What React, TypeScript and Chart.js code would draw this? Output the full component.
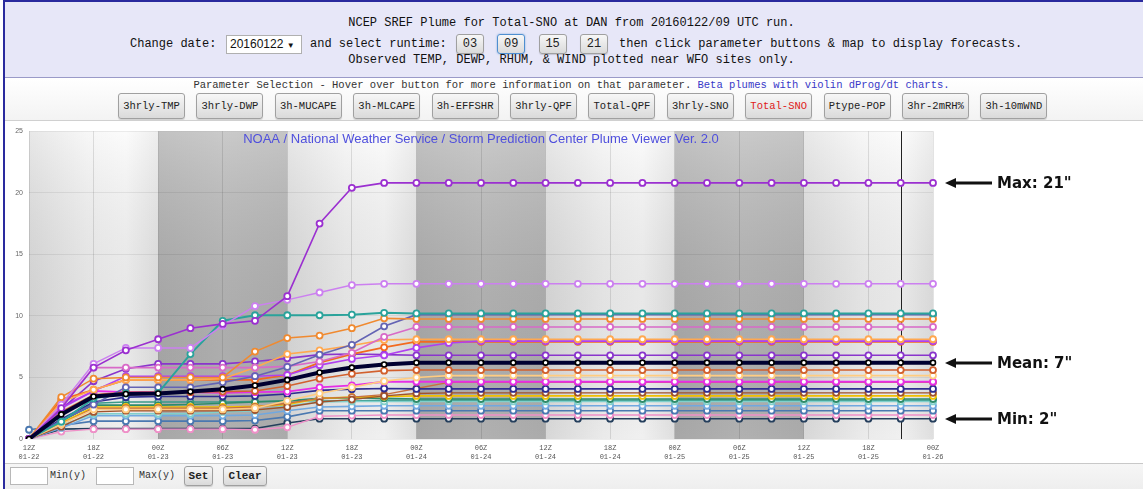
import React, { useEffect, useRef } from 'react';
import { Chart, registerables } from 'chart.js';
Chart.register(...registerables);

// ---- axis labels (3-hourly, 12Z 01-22 .. 00Z 01-26) ----
const hourLabels = ['12Z','15Z','18Z','21Z','00Z','03Z','06Z','09Z','12Z','15Z','18Z','21Z','00Z','03Z','06Z','09Z','12Z','15Z','18Z','21Z','00Z','03Z','06Z','09Z','12Z','15Z','18Z','21Z','00Z'];
const dateLabels = ['01-22','01-22','01-22','01-22','01-23','01-23','01-23','01-23','01-23','01-23','01-23','01-23','01-24','01-24','01-24','01-24','01-24','01-24','01-24','01-24','01-25','01-25','01-25','01-25','01-25','01-25','01-25','01-25','01-26'];
const yTicks = [0, 5, 10, 15, 20, 25];
const nightSpans = [[4, 8], [12, 16], [20, 24]];
const daySpans = [[0, 4], [8, 12], [16, 20], [24, 28]];
const currentIndex = 27;

// ---- series (Total snow, inches) ----
const seriesMean = [0, 2.0, 3.45, 3.65, 3.7, 3.85, 4.05, 4.35, 4.8, 5.4, 5.8, 6.05, 6.2, 6.2, 6.2, 6.2, 6.2, 6.2, 6.2, 6.2, 6.2, 6.2, 6.2, 6.2, 6.2, 6.2, 6.2, 6.2, 6.2];
const memA = [0, 2.5, 5.8, 7.2, 8.1, 9.0, 9.35, 9.6, 11.6, 17.5, 20.4, 20.8, 20.8, 20.8, 20.8, 20.8, 20.8, 20.8, 20.8, 20.8, 20.8, 20.8, 20.8, 20.8, 20.8, 20.8, 20.8, 20.8, 20.8];
const memB = [0, 2.8, 6.1, 7.4, 7.4, 7.4, 9.2, 10.8, 11.3, 11.9, 12.5, 12.6, 12.6, 12.6, 12.6, 12.6, 12.6, 12.6, 12.6, 12.6, 12.6, 12.6, 12.6, 12.6, 12.6, 12.6, 12.6, 12.6, 12.6];
const memC = [0, 1.4, 3.3, 3.7, 3.75, 6.9, 9.6, 10.05, 10.05, 10.05, 10.1, 10.25, 10.2, 10.2, 10.2, 10.2, 10.2, 10.2, 10.2, 10.2, 10.2, 10.2, 10.2, 10.2, 10.2, 10.2, 10.2, 10.2, 10.2];
const memD = [0, 3.4, 4.9, 5.0, 5.0, 5.0, 5.0, 7.1, 8.2, 8.4, 9.0, 9.8, 9.75, 9.75, 9.75, 9.75, 9.75, 9.75, 9.75, 9.75, 9.75, 9.75, 9.75, 9.75, 9.75, 9.75, 9.75, 9.75, 9.75];
const memE = [0, 1.5, 2.8, 4.2, 4.2, 4.2, 4.6, 5.1, 5.85, 6.85, 7.65, 9.15, 10.1, 10.1, 10.1, 10.1, 10.1, 10.1, 10.1, 10.1, 10.1, 10.1, 10.1, 10.1, 10.1, 10.1, 10.1, 10.1, 10.1];
const memF = [0, 2.6, 5.8, 5.8, 5.8, 5.8, 5.8, 5.8, 5.9, 6.3, 7.0, 8.3, 9.1, 9.1, 9.1, 9.1, 9.1, 9.1, 9.1, 9.1, 9.1, 9.1, 9.1, 9.1, 9.1, 9.1, 9.1, 9.1, 9.1];
const memG = [0, 3.0, 4.0, 4.8, 4.8, 4.8, 4.9, 5.8, 6.9, 7.2, 7.6, 8.05, 8.1, 8.1, 8.1, 8.1, 8.1, 8.1, 8.1, 8.1, 8.1, 8.1, 8.1, 8.1, 8.1, 8.1, 8.1, 8.1, 8.1];
const memH = [0, 2.5, 3.9, 5.1, 5.1, 5.1, 5.1, 5.1, 5.2, 6.0, 6.5, 6.8, 7.4, 7.8, 7.95, 7.95, 7.95, 7.95, 7.95, 7.95, 7.95, 7.95, 7.95, 7.95, 7.95, 7.95, 7.95, 7.95, 7.95];
const memI = [0, 3.2, 4.0, 4.8, 4.8, 4.8, 4.8, 4.8, 5.2, 6.2, 6.9, 7.45, 7.9, 7.9, 7.9, 7.9, 7.9, 7.9, 7.9, 7.9, 7.9, 7.9, 7.9, 7.9, 7.9, 7.9, 7.9, 7.9, 7.9];
const memJ = [0, 2.4, 4.7, 5.7, 6.1, 6.1, 6.1, 6.3, 6.55, 6.85, 6.9, 6.85, 6.8, 6.8, 6.8, 6.8, 6.8, 6.8, 6.8, 6.8, 6.8, 6.8, 6.8, 6.8, 6.8, 6.8, 6.8, 6.8, 6.8];
const memL = [0, 2.2, 3.6, 3.8, 3.8, 3.8, 3.85, 3.9, 4.3, 4.9, 5.3, 5.55, 5.6, 5.6, 5.6, 5.6, 5.6, 5.6, 5.6, 5.6, 5.6, 5.6, 5.6, 5.6, 5.6, 5.6, 5.6, 5.6, 5.6];
const memM = [0, 1.2, 2.4, 2.4, 2.4, 2.4, 2.4, 2.5, 3.1, 3.7, 4.2, 4.7, 5.0, 5.15, 5.15, 5.15, 5.15, 5.15, 5.15, 5.15, 5.15, 5.15, 5.15, 5.15, 5.15, 5.15, 5.15, 5.15, 5.15];
const memN = [0, 2.6, 3.9, 3.8, 3.8, 3.8, 3.75, 3.8, 3.85, 4.2, 4.35, 4.65, 4.65, 4.65, 4.65, 4.65, 4.65, 4.65, 4.65, 4.65, 4.65, 4.65, 4.65, 4.65, 4.65, 4.65, 4.65, 4.65, 4.65];
const memO = [0, 1.6, 3.0, 3.4, 3.45, 3.45, 3.45, 3.5, 3.65, 3.95, 4.05, 4.1, 4.07, 4.07, 4.07, 4.07, 4.07, 4.07, 4.07, 4.07, 4.07, 4.07, 4.07, 4.07, 4.07, 4.07, 4.07, 4.07, 4.07];
const memP = [0, 1.0, 2.2, 2.3, 2.3, 2.3, 2.3, 2.35, 2.6, 3.0, 3.2, 3.5, 3.7, 3.75, 3.75, 3.75, 3.75, 3.75, 3.75, 3.75, 3.75, 3.75, 3.75, 3.75, 3.75, 3.75, 3.75, 3.75, 3.75];
const memP2 = [0, 1.2, 2.5, 2.5, 2.5, 2.5, 2.5, 2.6, 2.9, 3.3, 3.4, 3.6, 4.1, 4.6, 4.6, 4.6, 4.6, 4.6, 4.6, 4.6, 4.6, 4.6, 4.6, 4.6, 4.6, 4.6, 4.6, 4.6, 4.6];
const memQ = [0, 1.3, 2.6, 2.6, 2.6, 2.6, 2.6, 2.65, 2.8, 3.3, 3.4, 3.45, 3.5, 3.5, 3.5, 3.5, 3.5, 3.5, 3.5, 3.5, 3.5, 3.5, 3.5, 3.5, 3.5, 3.5, 3.5, 3.5, 3.5];
const memR = [0, 1.5, 2.75, 2.75, 2.75, 2.8, 2.9, 3.0, 3.1, 3.3, 3.35, 3.3, 3.25, 3.25, 3.25, 3.25, 3.25, 3.25, 3.25, 3.25, 3.25, 3.25, 3.25, 3.25, 3.25, 3.25, 3.25, 3.25, 3.25];
const memS = [0, 1.1, 2.05, 2.05, 2.05, 2.05, 2.2, 2.3, 2.7, 3.0, 3.05, 3.05, 3.05, 3.05, 3.05, 3.05, 3.05, 3.05, 3.05, 3.05, 3.05, 3.05, 3.05, 3.05, 3.05, 3.05, 3.05, 3.05, 3.05];
const memT = [0, 0.9, 1.9, 1.9, 1.9, 1.9, 1.9, 1.95, 2.3, 2.6, 2.65, 2.7, 2.7, 2.7, 2.7, 2.7, 2.7, 2.7, 2.7, 2.7, 2.7, 2.7, 2.7, 2.7, 2.7, 2.7, 2.7, 2.7, 2.7];
const memU = [0.75, 1.1, 1.45, 1.45, 1.45, 1.45, 1.45, 1.5, 1.8, 2.3, 2.3, 2.3, 2.3, 2.3, 2.3, 2.3, 2.3, 2.3, 2.3, 2.3, 2.3, 2.3, 2.3, 2.3, 2.3, 2.3, 2.3, 2.3, 2.3];
const memV = [0, 0.6, 0.8, 0.8, 0.8, 0.8, 0.8, 0.75, 0.95, 1.85, 1.9, 1.95, 1.95, 1.95, 1.95, 1.95, 1.95, 1.95, 1.95, 1.95, 1.95, 1.95, 1.95, 1.95, 1.95, 1.95, 1.95, 1.95, 1.95];
const memW = [0, 0.8, 0.85, 0.85, 0.85, 0.85, 0.85, 0.85, 1.3, 1.65, 1.65, 1.65, 1.65, 1.65, 1.65, 1.65, 1.65, 1.65, 1.65, 1.65, 1.65, 1.65, 1.65, 1.65, 1.65, 1.65, 1.65, 1.65, 1.65];
const memX = [0, 1.4, 2.9, 3.0, 3.0, 3.0, 3.0, 3.05, 3.1, 3.1, 3.1, 3.15, 3.15, 3.15, 3.15, 3.15, 3.15, 3.15, 3.15, 3.15, 3.15, 3.15, 3.15, 3.15, 3.15, 3.15, 3.15, 3.15, 3.15];

const annotationLabels = ['Max: 21"', 'Mean: 7"', 'Min: 2"'];
const plotTitle = 'NOAA / National Weather Service / Storm Prediction Center Plume Viewer Ver. 2.0';
const paramButtons = ['3hrly-TMP', '3hrly-DWP', '3h-MUCAPE', '3h-MLCAPE', '3h-EFFSHR', '3hrly-QPF', 'Total-QPF', '3hrly-SNO', 'Total-SNO', 'Ptype-POP', '3hr-2mRH%', '3h-10mWND'];
const runtimes = ['03', '09', '15', '21'];

// styles for members (data kept separately above)
const memberStyles: [number[], string, number][] = [
  [memA, '#9B30D0', 1.6],
  [memB, '#CC80F0', 1.5],
  [memC, '#2AA39B', 2],
  [memD, '#F08A30', 1.6],
  [memE, '#6464B4', 1.6],
  [memF, '#D86AC8', 1.6],
  [memG, '#FFA850', 1.6],
  [memH, '#B040F0', 1.6],
  [memI, '#F26A1E', 1.8],
  [memJ, '#8A35CC', 1.6],
  [memL, '#D2602E', 1.6],
  [memM, '#FFCC80', 1.6],
  [memN, '#E62EE6', 1.8],
  [memO, '#2E2E90', 1.6],
  [memP, '#A0522D', 1.4],
  [memP2, '#C87040', 1.4],
  [memQ, '#F0C000', 1.6],
  [memR, '#2E8B6A', 1.6],
  [memS, '#80D0CC', 1.6],
  [memT, '#70A8E0', 1.6],
  [memU, '#4A78B0', 1.6],
  [memV, '#F090C8', 1.4],
  [memW, '#243E5C', 1.6],
  [memX, '#3A9A8A', 1.4],
];

const bgPlugin = {
  id: 'plumeBg',
  beforeDraw(chart: any) {
    const { ctx, chartArea, scales } = chart;
    const xs = scales.x;
    const top = chartArea.top, bottom = chartArea.bottom;
    ctx.save();
    daySpans.forEach(([a, b]) => {
      const x0 = xs.getPixelForValue(a), x1 = xs.getPixelForValue(b);
      const g = ctx.createLinearGradient(x0, 0, x1, 0);
      g.addColorStop(0, '#E0E0E0');
      g.addColorStop(0.45, '#F4F4F4');
      g.addColorStop(0.75, '#FAFAFA');
      g.addColorStop(1, '#E8E8E8');
      ctx.fillStyle = g;
      ctx.fillRect(x0, top, x1 - x0, bottom - top);
    });
    nightSpans.forEach(([a, b]) => {
      const x0 = xs.getPixelForValue(a), x1 = xs.getPixelForValue(b);
      const g = ctx.createLinearGradient(x0, 0, x1, 0);
      g.addColorStop(0, '#AEAEAE');
      g.addColorStop(0.5, '#B8B8B8');
      g.addColorStop(1, '#B2B2B2');
      ctx.fillStyle = g;
      ctx.fillRect(x0, top, x1 - x0, bottom - top);
    });
    const v = ctx.createLinearGradient(0, top, 0, bottom);
    v.addColorStop(0, 'rgba(255,255,255,0.25)');
    v.addColorStop(1, 'rgba(0,0,0,0.04)');
    ctx.fillStyle = v;
    ctx.fillRect(chartArea.left, top, chartArea.right - chartArea.left, bottom - top);
    ctx.restore();
  },
  beforeDatasetsDraw(chart: any) {
    const { ctx, chartArea, scales } = chart;
    ctx.save();
    ctx.font = '13px "Liberation Sans", Arial, sans-serif';
    ctx.fillStyle = '#4F4FDD';
    ctx.textAlign = 'center';
    ctx.textBaseline = 'middle';
    ctx.fillText(plotTitle, (chartArea.left + chartArea.right) / 2, chartArea.top + 8);
    const xm = Math.round(scales.x.getPixelForValue(currentIndex)) + 0.5;
    ctx.strokeStyle = '#222';
    ctx.lineWidth = 1;
    ctx.beginPath();
    ctx.moveTo(xm, chartArea.top);
    ctx.lineTo(xm, chartArea.bottom);
    ctx.stroke();
    ctx.restore();
  },
  afterDraw(chart: any) {
    const { ctx, chartArea, scales } = chart;
    const last = seriesMean.length - 1;
    const finals = memberStyles.map((m) => m[0][last]);
    const vals = [Math.max(...finals), seriesMean[last], Math.min(...finals)];
    ctx.save();
    vals.forEach((val, i) => {
      const y = Math.round(scales.y.getPixelForValue(val));
      const tip = chartArea.right + 12;
      ctx.fillStyle = '#111';
      ctx.beginPath();
      ctx.moveTo(tip, y);
      ctx.lineTo(tip + 11, y - 5);
      ctx.lineTo(tip + 11, y + 5);
      ctx.closePath();
      ctx.fill();
      ctx.fillRect(tip + 10, y - 1.5, 37, 3);
      ctx.font = 'bold 15px "DejaVu Sans", Verdana, sans-serif';
      ctx.textAlign = 'left';
      ctx.textBaseline = 'middle';
      ctx.fillText(annotationLabels[i], tip + 52, y + 1);
    });
    ctx.restore();
  },
};

function PlumeChart() {
  const ref = useRef<HTMLCanvasElement>(null);
  useEffect(() => {
    const datasets: any[] = [
      {
        data: seriesMean,
        borderColor: '#000030',
        borderWidth: 4,
        pointRadius: 2.5,
        pointBorderWidth: 1.6,
        pointBorderColor: '#000',
        pointBackgroundColor: '#fff',
        order: 0,
      },
      ...memberStyles.map(([d, c, w], i) => ({
        data: d,
        borderColor: c,
        borderWidth: w,
        pointRadius: 3,
        pointBorderWidth: 1.8,
        pointBorderColor: c,
        pointBackgroundColor: '#fff',
        order: 1 + i,
      })),
    ];
    const chart = new Chart(ref.current as HTMLCanvasElement, {
      type: 'line',
      data: { labels: hourLabels, datasets },
      options: {
        animation: false,
        responsive: false,
        maintainAspectRatio: false,
        events: [],
        layout: { padding: { left: 0, right: 210, top: 6, bottom: 0 } },
        elements: { line: { tension: 0 } },
        plugins: { legend: { display: false }, tooltip: { enabled: false }, title: { display: false } },
        scales: {
          x: {
            type: 'category',
            offset: false,
            border: { display: false },
            grid: {
              drawTicks: false,
              color: (c: any) => (c.index % 2 === 0 ? 'rgba(0,0,0,0.11)' : 'rgba(0,0,0,0)'),
            },
            ticks: {
              autoSkip: false,
              maxRotation: 0,
              padding: 4,
              color: '#555',
              font: { family: '"Liberation Mono", monospace', size: 7, lineHeight: 1.35 },
              callback: (_v: any, i: number) => (i % 2 === 0 ? [hourLabels[i], dateLabels[i]] : ''),
            },
            afterFit: (s: any) => { s.height = 24; },
          },
          y: {
            min: yTicks[0],
            max: yTicks[yTicks.length - 1],
            border: { display: false },
            grid: { drawTicks: false, color: 'rgba(0,0,0,0.07)' },
            ticks: {
              stepSize: 5,
              padding: 6,
              color: '#666',
              font: { family: '"Liberation Sans", Arial, sans-serif', size: 7 },
            },
            afterFit: (s: any) => { s.width = 24; },
          },
        },
      },
      plugins: [bgPlugin],
    });
    return () => chart.destroy();
  }, []);
  return <canvas ref={ref} width={1138} height={342} style={{ position: 'absolute', left: 5, top: 121, width: 1138, height: 342 }} />;
}

const mono = '"Liberation Mono", "Courier New", monospace';
const btnStyle: React.CSSProperties = {
  position: 'absolute',
  boxSizing: 'border-box',
  background: 'linear-gradient(#f7f7f7, #dadada)',
  border: '1px solid #a0a0a0',
  borderRadius: 3,
  boxShadow: '0 1px 1px rgba(0,0,0,0.15)',
  fontFamily: mono,
  color: '#222',
  display: 'flex',
  alignItems: 'center',
  justifyContent: 'center',
};

export default function App() {
  return (
    <div style={{ position: 'fixed', left: 0, top: 0, width: 1143, height: 489, background: '#fff', overflow: 'hidden', fontFamily: mono }}>
      {/* header */}
      <div style={{ position: 'absolute', left: 5, top: 2, width: 1138, height: 75, background: '#E7E7F8' }} />
      <div style={{ position: 'absolute', left: 5, top: 77, width: 1138, height: 1, background: '#9A9AC8' }} />
      <div style={{ position: 'absolute', left: 0, top: 16, width: 1143, textAlign: 'center', fontSize: 12, lineHeight: '14px', color: '#111' }}>
        NCEP SREF Plume for Total-SNO at DAN from 20160122/09 UTC run.
      </div>
      <div style={{ position: 'absolute', left: 130, top: 37, fontSize: 12, lineHeight: '14px', color: '#111', whiteSpace: 'pre' }}>Change date:</div>
      <div style={{ position: 'absolute', left: 226, top: 35, width: 76, height: 19, boxSizing: 'border-box', background: '#fff', border: '1px solid #b0b0b0', fontFamily: '"Liberation Sans", Arial, sans-serif', fontSize: 12, lineHeight: '17px', paddingLeft: 3, color: '#111' }}>
        20160122 <span style={{ fontSize: 8 }}>▼</span>
      </div>
      <div style={{ position: 'absolute', left: 310, top: 37, fontSize: 12, lineHeight: '14px', color: '#111', whiteSpace: 'pre' }}>and select runtime:</div>
      {runtimes.map((r, i) => (
        <div key={r} style={{ ...btnStyle, left: 456 + i * 41.3, top: 34, width: 28, height: 20, fontSize: 12, border: r === '09' ? '1px solid #4F8FD0' : btnStyle.border, boxShadow: r === '09' ? '0 0 2px #7aa8d8' : btnStyle.boxShadow }}>{r}</div>
      ))}
      <div style={{ position: 'absolute', left: 619, top: 37, fontSize: 12, lineHeight: '14px', color: '#111', whiteSpace: 'pre' }}>then click parameter buttons &amp; map to display forecasts.</div>
      <div style={{ position: 'absolute', left: 0, top: 53, width: 1143, textAlign: 'center', fontSize: 12, lineHeight: '14px', color: '#111' }}>
        Observed TEMP, DEWP, RHUM, &amp; WIND plotted near WFO sites only.
      </div>

      {/* parameter selection */}
      <div style={{ position: 'absolute', left: 5, top: 78, width: 1138, height: 42, background: 'linear-gradient(#ffffff, #f3f3f3)' }} />
      <div style={{ position: 'absolute', left: 0, top: 79, width: 1143, textAlign: 'center', fontSize: 10.5, lineHeight: '12px', color: '#333', whiteSpace: 'pre' }}>
        Parameter Selection - Hover over button for more information on that parameter. <span style={{ color: '#3838C8' }}>Beta plumes with violin dProg/dt charts.</span>
      </div>
      {paramButtons.map((b, i) => (
        <div key={b} style={{ ...btnStyle, left: 118 + i * 78.4, top: 93, width: 67, height: 26, fontSize: 10.5, color: b === 'Total-SNO' ? '#E02020' : '#222' }}>{b}</div>
      ))}
      <div style={{ position: 'absolute', left: 5, top: 120, width: 1138, height: 1, background: '#d0d0d0' }} />

      <PlumeChart />

      {/* bottom controls */}
      <div style={{ position: 'absolute', left: 5, top: 463, width: 1138, height: 1, background: '#c8c8c8' }} />
      <div style={{ position: 'absolute', left: 5, top: 464, width: 1138, height: 25, background: 'linear-gradient(#f6f6f6, #eeeeee)' }} />
      <div style={{ position: 'absolute', left: 10, top: 467, width: 38, height: 18, boxSizing: 'border-box', background: '#fff', border: '1px solid #b8b8b8' }} />
      <div style={{ position: 'absolute', left: 50, top: 470, fontSize: 10, lineHeight: '12px', color: '#333' }}>Min(y)</div>
      <div style={{ position: 'absolute', left: 96, top: 467, width: 38, height: 18, boxSizing: 'border-box', background: '#fff', border: '1px solid #b8b8b8' }} />
      <div style={{ position: 'absolute', left: 139, top: 470, fontSize: 10, lineHeight: '12px', color: '#333' }}>Max(y)</div>
      <div style={{ ...btnStyle, left: 184, top: 466, width: 29, height: 20, fontSize: 11, fontWeight: 'bold' }}>Set</div>
      <div style={{ ...btnStyle, left: 223, top: 466, width: 44, height: 20, fontSize: 11, fontWeight: 'bold' }}>Clear</div>

      {/* dark blue frame */}
      <div style={{ position: 'absolute', left: 3, top: 0, width: 1140, height: 2, background: '#2A2A9E' }} />
      <div style={{ position: 'absolute', left: 3, top: 0, width: 2, height: 489, background: '#2A2A9E' }} />
    </div>
  );
}
